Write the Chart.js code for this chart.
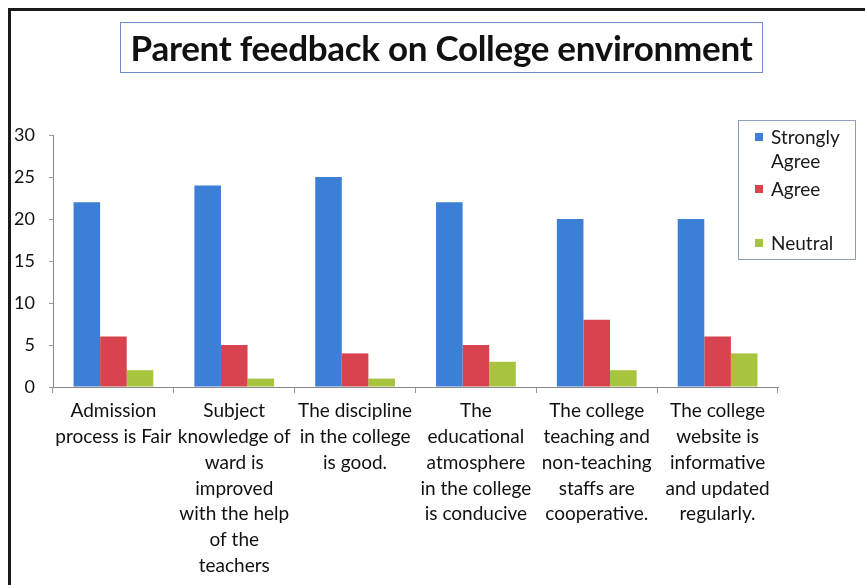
<!DOCTYPE html>
<html>
<head>
<meta charset="utf-8">
<script src="https://cdn.jsdelivr.net/npm/chart.js@4.4.0/dist/chart.umd.min.js"></script>
<style>
  body { margin: 0; background: #fff; font-family: Lato, sans-serif; }
  #wrap { position: relative; width: 865px; height: 585px; overflow: hidden; }
  #frame { position: absolute; left: 8px; top: 8px; width: 900px; height: 600px;
           border-top: 3px solid #1a1a1a; border-left: 3px solid #1a1a1a; }
  #title { position: absolute; left: 120px; top: 22px; width: 641px; height: 49px;
           border: 1px solid #6f8fc6; text-align: center; line-height: 49px;
           font-weight: bold; font-size: 35px; color: #111; letter-spacing: -0.3px; }
  #legend { position: absolute; left: 738px; top: 120px; width: 116px; height: 138px;
            border: 1px solid #8d9fbf; font-size: 19px; color: #1a1a1a; }
  .item { position: absolute; left: 32px; line-height: 24px; }
  .sw { position: absolute; left: -16px; top: 8px; width: 8px; height: 8px; }
  canvas { position: absolute; left: 0; top: 0; }
</style>
</head>
<body>
<div id="wrap">
  <div id="frame"></div>
  <canvas id="chart" width="865" height="585"></canvas>
  <div id="title">Parent feedback on College environment</div>
  <div id="legend"></div>
</div>
<script>
const categories = [
  ['Admission', 'process is Fair'],
  ['Subject', 'knowledge of', 'ward is', 'improved', 'with the help', 'of the', 'teachers'],
  ['The discipline', 'in the college', 'is good.'],
  ['The', 'educational', 'atmosphere', 'in the college', 'is conducive'],
  ['The college', 'teaching and', 'non-teaching', 'staffs are', 'cooperative.'],
  ['The college', 'website is', 'informative', 'and updated', 'regularly.']
];
const seriesNames = ['Strongly Agree', 'Agree', 'Neutral'];
const stronglyAgree = [22, 24, 25, 22, 20, 20];
const agree = [6, 5, 4, 5, 8, 6];
const neutral = [2, 1, 1, 3, 2, 4];
const colors = ['#3c7fd6', '#d8434f', '#a8c43e'];

const chart = new Chart(document.getElementById('chart'), {
  type: 'bar',
  data: {
    labels: categories,
    datasets: [stronglyAgree, agree, neutral].map((d, i) => ({
      label: seriesNames[i],
      data: d,
      backgroundColor: colors[i],
      categoryPercentage: 0.66,
      barPercentage: 1
    }))
  },
  options: {
    responsive: false,
    animation: false,
    layout: { padding: { left: 10, top: 135, right: 87, bottom: 0 } },
    plugins: { legend: { display: false }, tooltip: { enabled: false } },
    scales: {
      x: {
        grid: { drawOnChartArea: false, drawTicks: true, tickLength: 6, color: '#999' },
        border: { color: '#888' },
        ticks: {
          maxRotation: 0, autoSkip: false, padding: 5, color: '#111',
          font: { family: 'Lato', size: 19, lineHeight: 1.36 }
        },
        afterFit: s => { s.height = 198; }
      },
      y: {
        min: 0, max: 30,
        ticks: { stepSize: 5, padding: 14, color: '#111', font: { family: 'Lato', size: 18 } },
        grid: { drawOnChartArea: false, drawTicks: true, tickLength: 4, color: '#999' },
        border: { color: '#888' },
        afterFit: s => { s.width = 43; }
      }
    }
  }
});

// legend built from the datasets
const legend = document.getElementById('legend');
const tops = [4, 56, 110];
chart.data.datasets.forEach((ds, i) => {
  const el = document.createElement('div');
  el.className = 'item';
  el.style.top = tops[i] + 'px';
  const text = ds.label === 'Strongly Agree' ? 'Strongly<br>Agree' : ds.label;
  el.innerHTML = '<span class="sw" style="background:' + ds.backgroundColor + '"></span>' + text;
  legend.appendChild(el);
});
</script>
</body>
</html>
